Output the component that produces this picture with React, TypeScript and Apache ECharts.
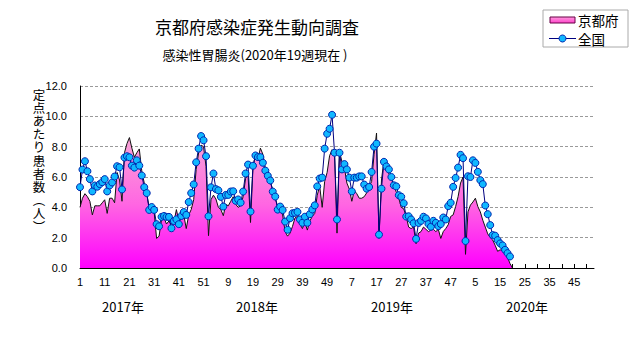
import React, { useEffect, useRef } from "react";
import * as echarts from "echarts";

const years = ["2017年", "2018年", "2019年", "2020年"];
const weeksPerYear = [52, 52, 52, 53];
const yTicks = [0, 2, 4, 6, 8, 10, 12];
const yAxisName = ["定", "点", "あ", "た", "り", "患", "者", "数", "︵", "人", "︶"];

// 京都府 (2017 w1 .. 2020 w19, then 0)
const kyoto = [
  4.0, 4.6, 4.9, 4.7, 4.4, 3.5, 4.1, 4.1, 4.1, 4.3,
  4.5, 3.6, 4.6, 4.6, 4.3, 6.3, 5.8, 4.4, 7.6, 8.2,
  8.6, 7.9, 7.3, 7.6, 7.85, 6.4, 5.6, 4.9, 4.0, 3.9,
  3.7, 1.95, 2.1, 3.2, 3.3, 2.9, 3.1, 2.8, 3.0, 3.85,
  3.1, 3.3, 3.5, 2.6, 3.5, 3.85, 4.5, 6.5, 7.6, 8.1,
  8.0, 6.7, 2.13, 4.5, 4.8, 4.55, 4.0, 3.85, 3.45, 4.2,
  4.1, 4.4, 4.7, 4.2, 4.0, 4.1, 4.7, 5.9, 6.15, 3.0,
  6.6, 7.5, 7.2, 7.9, 7.5, 6.6, 6.3, 5.65, 5.2, 4.6,
  4.07, 3.8, 3.5, 2.4, 2.1, 2.3, 2.75, 3.3, 3.4, 2.9,
  2.6, 3.0, 2.5, 3.1, 3.4, 3.6, 4.8, 5.4, 4.0, 5.7,
  6.3, 7.4, 7.8, 7.6, 2.3, 7.7, 7.0, 6.6, 5.6, 5.2,
  4.4, 5.1, 4.9, 4.6, 4.6, 4.7, 4.95, 5.35, 5.7, 7.5,
  8.9, 1.95, 5.8, 7.1, 6.8, 6.2, 5.9, 5.4, 5.0, 4.6,
  4.0, 3.9, 3.4, 2.7, 2.6, 2.7, 1.6, 2.3, 2.4, 2.7,
  2.55, 2.4, 2.5, 2.55, 2.4, 2.55, 1.95, 2.4, 2.6, 2.85,
  3.4, 3.5, 4.05, 4.7, 5.6, 6.0, 0.9, 3.7, 4.15, 4.35,
  4.6, 4.05, 3.7, 3.15, 2.7, 2.25, 2.0, 1.85, 1.5, 1.1,
  1.2, 1.15, 0.95, 0.7, 0.3, 0,
];

// 全国
const national = [
  5.33, 6.49, 7.04, 6.38, 5.86, 5.05, 5.44, 5.36, 5.53, 5.66,
  5.86, 5.05, 5.44, 5.64, 6.03, 6.71, 6.64, 5.18, 7.28, 7.37,
  7.3, 6.75, 6.62, 7.1, 6.75, 6.1, 5.33, 4.94, 3.83, 4.02,
  3.83, 2.89, 2.75, 3.37, 3.43, 3.37, 3.37, 2.62, 3.1, 3.21,
  2.89, 3.43, 3.69, 3.5, 4.35, 4.94, 5.51, 6.97, 7.87, 8.7,
  8.42, 7.37, 3.41, 5.32, 6.23, 5.2, 5.12, 4.69, 4.05, 4.82,
  4.82, 5.04, 5.06, 4.43, 4.52, 4.31, 5.04, 6.23, 6.82, 3.72,
  6.74, 7.42, 7.31, 7.31, 6.94, 6.42, 6.08, 5.77, 5.04, 4.71,
  3.85, 4.05, 3.82, 3.06, 2.52, 3.28, 3.61, 3.64, 3.7, 3.2,
  2.98, 3.38, 2.98, 3.55, 3.86, 4.13, 5.38, 5.9, 5.96, 7.87,
  8.85, 9.18, 10.1, 7.6, 3.2, 7.6, 6.5, 6.85, 6.5, 5.96,
  5.05, 5.96, 5.96, 6.04, 6.04, 5.5, 5.23, 5.34, 6.33, 8.0,
  8.2, 2.2, 5.23, 7.0, 6.7, 6.5, 6.0, 5.45, 5.38, 4.8,
  4.7, 4.27, 3.39, 3.41, 3.2, 2.95, 1.92, 2.97, 3.11, 3.38,
  3.27, 2.9, 2.72, 3.11, 2.98, 2.76, 2.9, 3.33, 3.2, 4.08,
  4.3, 5.35, 5.94, 6.62, 7.46, 7.24, 1.78, 6.05, 6.0, 7.1,
  6.93, 6.34, 5.79, 5.53, 4.12, 3.55, 2.83, 2.17, 2.13, 1.84,
  1.62, 1.49, 1.2, 0.98, 0.76,
];

const FONT = "'Noto Sans CJK JP', 'Noto Sans', sans-serif";

export default function App() {
  const ref = useRef<HTMLDivElement>(null);
  useEffect(() => {
    if (!ref.current) return;
    const chart = echarts.init(ref.current, null, { renderer: "svg" });

    const categories: string[] = [];
    const weekLabels: string[] = [];
    weeksPerYear.forEach((n, yi) => {
      for (let w = 1; w <= n; w++) {
        categories.push(years[yi] + w);
        weekLabels.push(String(w));
      }
    });

    const areaGrad = new echarts.graphic.LinearGradient(
      0, 86, 0, 268,
      [
        { offset: 0, color: "#FFCCEA" },
        { offset: 0.3, color: "#FAA2D8" },
        { offset: 0.65, color: "#FF66E2" },
        { offset: 1, color: "#FF00FF" },
      ],
      true
    );

    const yearX = [123, 257, 392, 527];

    chart.setOption({
      animation: false,
      textStyle: { fontFamily: FONT },
      grid: { left: 80, right: 37, top: 86, bottom: 79, containLabel: false },
      xAxis: {
        type: "category",
        data: categories,
        boundaryGap: false,
        axisLine: { lineStyle: { color: "#000", width: 1 } },
        axisTick: { interval: 4, inside: true, length: 4, lineStyle: { color: "#000" } },
        axisLabel: {
          interval: 9,
          margin: 8,
          color: "#000",
          fontSize: 11,
          fontFamily: "'Liberation Sans', Arial, sans-serif",
          formatter: (_v: string, i: number) => weekLabels[i],
        },
        splitLine: { show: false },
      },
      yAxis: {
        type: "value",
        min: yTicks[0],
        max: yTicks[yTicks.length - 1],
        interval: 2,
        axisLine: { show: true, lineStyle: { color: "#000", width: 1 } },
        axisTick: { show: false },
        axisLabel: {
          margin: 13,
          color: "#000",
          fontSize: 11,
          fontFamily: "'Liberation Sans', Arial, sans-serif",
          formatter: (v: number) => v.toFixed(1),
        },
        splitLine: { show: true, lineStyle: { color: "#9a9a9a", type: [3, 2], width: 1 } },
      },
      series: [
        {
          name: "京都府",
          type: "line",
          data: kyoto,
          symbol: "none",
          lineStyle: { color: "#111", width: 1 },
          areaStyle: { color: areaGrad, opacity: 1 },
          z: 1,
        },
        {
          name: "全国",
          type: "line",
          data: national,
          symbol: "circle",
          symbolSize: 7,
          showAllSymbol: true,
          lineStyle: { color: "#000080", width: 1 },
          itemStyle: { color: "#10B8FF", borderColor: "#0028B0", borderWidth: 1 },
          z: 2,
        },
      ],
      graphic: [
        {
          type: "text",
          x: 257,
          y: 26,
          style: {
            text: "京都府感染症発生動向調査",
            fontSize: 17,
            fontFamily: FONT,
            fill: "#000",
            align: "center",
            verticalAlign: "middle",
          },
        },
        {
          type: "text",
          x: 255,
          y: 54,
          style: {
            text: "感染性胃腸炎(2020年19週現在 )",
            fontSize: 13,
            fontFamily: FONT,
            fill: "#000",
            align: "center",
            verticalAlign: "middle",
          },
        },
        ...yAxisName.map((c, i) => ({
          type: "text",
          x: 39,
          y: 94 + i * 13.2,
          style: {
            text: c,
            fontSize: 12.5,
            lineHeight: 12.5,
            fontFamily: FONT,
            fill: "#000",
            align: "center",
            verticalAlign: "middle",
          },
        })),
        ...years.map((t, i) => ({
          type: "text",
          x: yearX[i],
          y: 306,
          style: {
            text: t,
            fontSize: 13,
            fontFamily: FONT,
            fill: "#000",
            align: "center",
            verticalAlign: "middle",
          },
        })),
        // legend
        {
          type: "rect",
          shape: { x: 543, y: 10, width: 85, height: 37 },
          style: { fill: "#fff", stroke: "#aaaaaa", lineWidth: 1 },
          z: 10,
        },
        {
          type: "rect",
          shape: { x: 550, y: 17, width: 25, height: 6 },
          style: {
            fill: new echarts.graphic.LinearGradient(0, 0, 0, 1, [
              { offset: 0, color: "#FF99DD" },
              { offset: 1, color: "#FF44CC" },
            ]),
            stroke: "#660044",
            lineWidth: 1,
          },
          z: 11,
        },
        {
          type: "text",
          x: 578,
          y: 20,
          style: { text: "京都府", fontSize: 13.5, fontFamily: FONT, fill: "#000", verticalAlign: "middle" },
          z: 11,
        },
        {
          type: "line",
          shape: { x1: 549, y1: 38.5, x2: 576, y2: 38.5 },
          style: { stroke: "#000080", lineWidth: 1 },
          z: 11,
        },
        {
          type: "circle",
          shape: { cx: 562.5, cy: 38.5, r: 3.5 },
          style: { fill: "#10B8FF", stroke: "#0028B0", lineWidth: 1 },
          z: 12,
        },
        {
          type: "text",
          x: 578,
          y: 39,
          style: { text: "全国", fontSize: 13.5, fontFamily: FONT, fill: "#000", verticalAlign: "middle" },
          z: 11,
        },
      ],
    });
    return () => chart.dispose();
  }, []);
  return (
    <div
      ref={ref}
      style={{ position: "fixed", left: 0, top: 0, width: 631, height: 347, background: "#fff" }}
    />
  );
}
